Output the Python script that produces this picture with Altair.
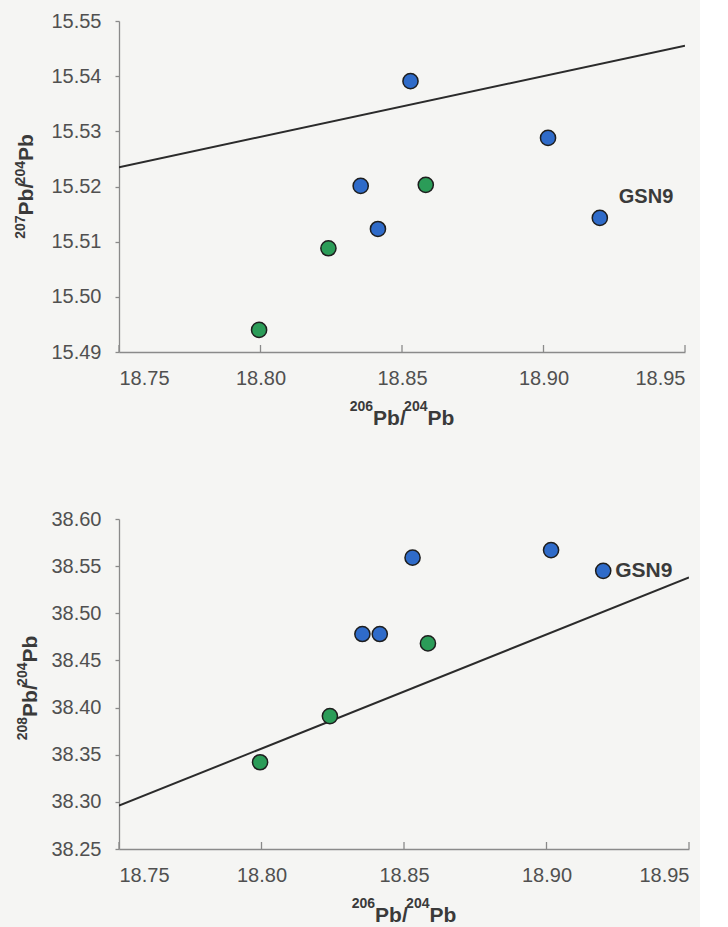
import altair as alt
import pandas as pd

# Lead isotope ratios of the samples
pb206_204 = [18.7995, 18.8240, 18.8354, 18.8415, 18.8530, 18.8584, 18.9016, 18.9199]
pb207_204 = [15.4940, 15.5088, 15.5201, 15.5123, 15.5391, 15.5203, 15.5288, 15.5143]
pb208_204 = [38.342, 38.391, 38.478, 38.478, 38.559, 38.468, 38.567, 38.545]
group = ["g", "g", "b", "b", "b", "g", "b", "b"]
sample = ["", "", "", "", "", "", "", "GSN9"]

# Reference line endpoints
ref_x = [18.75, 18.95]
ref_207 = [15.5235, 15.5455]
ref_208 = [38.296, 38.538]

x_ticks = [18.75, 18.80, 18.85, 18.90, 18.95]
y207_ticks = [15.49, 15.50, 15.51, 15.52, 15.53, 15.54, 15.55]
y208_ticks = [38.25, 38.30, 38.35, 38.40, 38.45, 38.50, 38.55, 38.60]

# Axis titles as (text, is_superscript) pieces
title_206 = [("206", True), ("Pb/", False), ("204", True), ("Pb", False)]
title_207 = [("207", True), ("Pb/", False), ("204", True), ("Pb", False)]
title_208 = [("208", True), ("Pb/", False), ("204", True), ("Pb", False)]

pts = pd.DataFrame({"x": pb206_204, "y207": pb207_204, "y208": pb208_204,
                    "group": group, "sample": sample})
ref = pd.DataFrame({"x": ref_x, "y207": ref_207, "y208": ref_208})
ticks = pd.DataFrame({"x": x_ticks})
labelled = pts[pts["sample"] != ""]

FONT = "Liberation Sans"
TXT = "#3a3a3a"
AX = "#8a8a8a"
BG = "#f5f5f3"
MAIN_SIZE = 21
SUP_SIZE = 14
# Advance widths (em) of the bold sans glyphs used in the titles
EM = {"P": 0.667, "b": 0.611, "/": 0.2}


def text_width(s, size):
    return sum(EM.get(c, 0.556) for c in s) * size


def title_layers(parts, center, base, vertical, sup_shift):
    """Compose a title with raised isotope numbers from separate text marks."""
    sizes = [SUP_SIZE if sup else MAIN_SIZE for _, sup in parts]
    total = sum(text_width(t, s) for (t, _), s in zip(parts, sizes))
    layers = []
    run = 0.0
    for (t, sup), s in zip(parts, sizes):
        if vertical:
            px, py = base - (sup_shift if sup else 0), center + total / 2 - run
        else:
            px, py = center - total / 2 + run, base - (sup_shift if sup else 0)
        layers.append(
            alt.Chart(pd.DataFrame({"t": [t]})).mark_text(
                align="left", baseline="alphabetic", font=FONT, fontSize=s,
                fontWeight="bold", color=TXT, angle=270 if vertical else 0,
            ).encode(x=alt.value(px), y=alt.value(py), text="t:N")
        )
        run += text_width(t, s)
    return layers


def panel(ycol, ydomain, yticks, ytitle, w, h, lab_dx, lab_dy, lab_size,
          ytitle_x, ysup_shift, ytitle_dy):
    xs = alt.Scale(domain=[18.75, 18.95], nice=False, zero=False)
    ys = alt.Scale(domain=ydomain, nice=False, zero=False)
    xax = alt.Axis(values=x_ticks, format=".2f", ticks=False, grid=False,
                   labelPadding=16, title=None)
    yax = alt.Axis(values=yticks, format=".2f", tickSize=4, grid=False,
                   labelPadding=14, title=None)

    line = alt.Chart(ref).mark_line(color="#2b2b2b", strokeWidth=2, clip=True).encode(
        x=alt.X("x:Q", scale=xs, axis=xax),
        y=alt.Y(f"{ycol}:Q", scale=ys, axis=yax),
    )
    xt = alt.Chart(ticks).mark_rule(color=AX, strokeWidth=1.3).encode(
        x=alt.X("x:Q", scale=xs),
        y=alt.value(h),
        y2=alt.value(h - 7),
    )
    dots = alt.Chart(pts).mark_point(filled=True, shape="circle", size=230,
                                     stroke="#1e1e1e", strokeWidth=1.5, opacity=1).encode(
        x=alt.X("x:Q", scale=xs),
        y=alt.Y(f"{ycol}:Q", scale=ys),
        fill=alt.Fill("group:N", scale=alt.Scale(domain=["b", "g"],
                                                range=["#2f6bc9", "#2b9c58"]),
                      legend=None),
    )
    lab = alt.Chart(labelled).mark_text(align="left", baseline="middle", font=FONT,
                                        fontSize=lab_size, fontWeight="bold", color=TXT,
                                        dx=lab_dx, dy=lab_dy).encode(
        x=alt.X("x:Q", scale=xs),
        y=alt.Y(f"{ycol}:Q", scale=ys),
        text="sample:N",
    )
    layers = [line, xt, dots, lab]
    layers += title_layers(title_206, w / 2, h + 73, False, 14)
    layers += title_layers(ytitle, h / 2 + ytitle_dy, ytitle_x, True, ysup_shift)
    return alt.layer(*layers).properties(width=w, height=h)


top = panel("y207", [15.49, 15.55], y207_ticks, title_207, 566, 331, 19, -21, 20,
            -86, 8, 0)
bottom = panel("y208", [38.25, 38.60], y208_ticks, title_208, 570, 330, 12, 0, 21,
               -82, 10, 4)

chart = alt.vconcat(top, bottom, spacing=80).configure(
    background=BG, padding={"left": 14, "top": 11, "right": 10, "bottom": 2}
).configure_view(stroke=None).configure_axis(
    domainColor=AX, domainWidth=1.3, tickColor=AX, tickWidth=1.3,
    labelFont=FONT, labelFontSize=20, labelColor="#505050",
)

chart.save("out.html", embed_options={"renderer": "svg", "actions": False})
